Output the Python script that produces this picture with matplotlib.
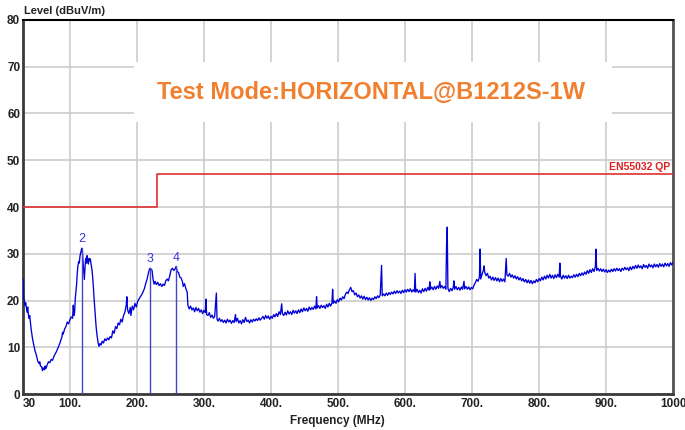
import matplotlib
matplotlib.use("Agg")
import matplotlib.pyplot as plt
from matplotlib.patches import Rectangle

plt.rcParams['font.family'] = ['Liberation Sans', 'DejaVu Sans']

# Scan trace (MHz, dBuV/m), split by band
trace_low = [
    (30, 21.5), (30.5, 24.5), (31, 20.5), (32, 20.0), (33, 19.0), (34, 19.5), (35, 18.5),
    (36, 17.5), (37, 18.6), (38, 17.0), (39, 16.2), (40, 16.8), (42, 14.0), (44, 12.0),
    (46, 10.5), (48, 9.2), (50, 8.3), (52, 7.0), (54, 6.5), (55, 6.9), (56, 6.0), (58, 5.8),
    (59, 5.0), (60, 5.6), (62, 5.2), (63, 6.0), (64, 5.4), (66, 6.2), (68, 6.9), (70, 6.7),
    (72, 7.4), (74, 7.2), (76, 8.0), (78, 8.6), (80, 9.1), (82, 9.8), (84, 10.5), (86, 11.3),
    (88, 12.2), (89, 13.2), (90, 12.8), (92, 13.9), (94, 14.4), (96, 15.4), (98, 15.0),
    (100, 15.9), (102, 16.5), (104, 16.2), (105, 19.0), (106, 16.8), (107, 17.5), (108, 20.5),
    (110, 23.5), (111, 26.0), (112, 27.5), (113, 28.3), (114, 28.0), (115, 29.5), (116, 30.2),
    (117, 30.8), (117.6, 31.2), (118.5, 30.5), (119.5, 28.5), (120.5, 26.5), (121.5, 24.5),
    (122.5, 27.0), (123.5, 29.0), (124.5, 28.0), (125.5, 29.6), (126.5, 28.5), (127.5, 27.8),
    (128.5, 29.0), (129.5, 28.5), (130.5, 28.9), (131.5, 27.8), (133, 26.5), (134.5, 24.0),
    (136, 20.5), (137.5, 17.5), (139, 14.5), (140.5, 12.5), (142, 11.0), (143.5, 10.2),
    (145, 10.8), (146.5, 10.5), (148, 11.3), (150, 10.9), (152, 11.8), (154, 11.4),
    (156, 12.0), (158, 11.6), (160, 12.3), (162, 12.0), (164, 13.5), (166, 13.0), (168, 14.4),
    (170, 14.0), (172, 15.2), (174, 14.8), (176, 16.0), (178, 15.4), (180, 16.8), (182, 17.5),
    (184, 19.0), (185, 20.8), (186, 18.0), (188, 17.2), (190, 18.5), (191, 16.8), (193, 18.8),
    (195, 18.0), (197, 19.4), (199, 18.6), (201, 19.8), (203, 20.3), (205, 20.8), (207, 21.2),
    (209, 21.8), (211, 22.5), (213, 23.6), (215, 24.5), (217, 25.8), (218.5, 26.6),
    (219.5, 26.9), (221, 26.7), (222.5, 26.5), (224, 24.6), (225.5, 23.5), (227, 24.1),
    (229, 23.4), (231, 23.9), (233, 23.2), (235, 23.6), (237, 23.0), (239, 23.5), (241, 23.2),
    (243, 24.2), (245, 24.6), (247, 24.2), (249, 25.3), (251, 26.6), (253, 26.9), (255, 26.4),
    (257, 26.8), (258.5, 27.3), (260, 26.2), (262, 26.0), (264, 25.0), (266, 24.8),
    (268, 24.0), (269, 23.0), (271, 23.6), (273, 22.5), (275, 21.8), (276, 19.0), (278, 18.2),
    (280, 18.8), (282, 18.0), (284, 18.4), (286, 17.6), (288, 18.5), (290, 17.8), (292, 18.3),
    (294, 17.5), (296, 18.0), (298, 17.2),
]

trace_mid = [
    (300, 17.9), (302, 17.4), (303, 20.3), (304, 17.0), (306, 16.8), (308, 17.4), (310, 16.4),
    (312, 16.9), (314, 16.2), (316, 16.6), (318.5, 21.6), (319.5, 16.0), (321, 15.6),
    (323, 16.2), (325, 15.5), (327, 15.9), (329, 15.3), (331, 15.8), (333, 15.2), (335, 16.0),
    (337, 15.4), (339, 15.8), (341, 15.1), (343, 15.7), (345, 15.3), (347, 17.0), (348, 15.5),
    (350, 16.2), (352, 15.2), (354, 15.7), (356, 15.0), (358, 15.9), (360, 15.3), (362, 16.4),
    (364, 15.5), (366, 15.8), (368, 15.2), (370, 15.9), (372, 15.4), (374, 16.0), (376, 15.6),
    (378, 16.1), (380, 15.7), (382, 16.3), (384, 15.8), (386, 16.2), (388, 16.6), (390, 16.0),
    (392, 16.8), (394, 16.2), (396, 16.7), (398, 16.0), (400, 16.6), (402, 16.2), (404, 17.0),
    (406, 16.5), (408, 17.2), (410, 16.6), (412, 17.6), (414, 17.0), (416, 19.3), (417, 17.2),
    (419, 16.8), (421, 17.5), (423, 16.9), (425, 17.8), (427, 17.1), (429, 17.6), (431, 17.0),
    (433, 17.9), (435, 17.3), (437, 17.8), (439, 17.2), (441, 18.0), (443, 17.4), (445, 18.2),
    (447, 17.6), (449, 18.4), (451, 17.8), (453, 18.3), (455, 17.7), (457, 18.6), (459, 18.0),
    (461, 18.5), (463, 18.1), (465, 18.8), (467, 18.2), (468, 20.8), (469, 18.4), (471, 18.9),
    (473, 18.3), (475, 19.0), (477, 18.5), (479, 18.9), (481, 18.3), (483, 19.2), (485, 18.6),
    (487, 19.4), (489, 18.8), (491, 19.5), (492, 22.4), (493, 19.4), (495, 19.9), (497, 19.4),
    (499, 20.2), (501, 19.7), (503, 20.5), (505, 20.1), (507, 20.8), (509, 20.4), (511, 21.3),
    (513, 21.8), (515, 21.5), (517, 22.3), (519, 22.8), (521, 21.9), (523, 22.1), (525, 21.2),
    (527, 21.6), (529, 20.8), (531, 21.2), (533, 20.5), (535, 21.0), (537, 20.3), (539, 20.9),
    (541, 20.2), (543, 20.7), (545, 20.1), (547, 20.6), (549, 20.0), (551, 20.5), (553, 20.2),
    (555, 20.8), (557, 20.4), (559, 21.0), (561, 20.6), (563, 21.2), (565, 27.5), (566, 21.0),
    (568, 21.4), (570, 21.0), (572, 21.6), (574, 21.1), (576, 21.7), (578, 21.3), (580, 21.8),
    (582, 21.4), (584, 22.0), (586, 21.5), (588, 22.1), (590, 21.6), (592, 22.0), (594, 21.5),
    (596, 22.2), (598, 21.7), (600, 22.3), (602, 21.8), (604, 22.4), (606, 21.9), (608, 22.5),
    (610, 21.8), (612, 22.3), (614, 21.9), (615, 25.8), (616, 21.8), (618, 22.4), (620, 21.7),
    (622, 22.2), (624, 21.6), (626, 22.5), (628, 21.9), (630, 22.6), (632, 22.0), (634, 22.8),
    (636, 22.2), (637, 24.0), (638, 22.4), (640, 22.9), (642, 22.3), (644, 23.0), (646, 22.4),
    (648, 23.1), (650, 22.6), (652, 24.1), (653, 22.7), (655, 23.2), (657, 22.6), (659, 23.0),
    (661, 22.4), (662, 32.0), (663, 35.7), (664, 22.6), (666, 21.9), (668, 22.6), (670, 22.1),
    (672, 22.8), (673, 24.2), (674, 22.4), (676, 23.0), (678, 22.3), (680, 22.8), (682, 22.2),
    (684, 22.9), (686, 22.4), (688, 24.1), (689, 22.5), (691, 23.0), (693, 22.4), (695, 22.9),
    (697, 22.3), (699, 22.8),
]

trace_high = [
    (701, 22.5), (703, 23.3), (705, 23.8), (707, 24.5), (709, 24.1), (711, 25.0), (712, 31.0),
    (713, 24.6), (715, 25.6), (717, 26.5), (718, 27.4), (719, 26.0), (721, 25.3), (723, 25.8),
    (725, 24.8), (727, 25.2), (729, 24.4), (731, 25.0), (733, 24.3), (735, 24.9), (737, 24.2),
    (739, 24.8), (741, 24.0), (743, 24.7), (745, 24.1), (747, 24.6), (749, 24.0), (751, 29.0),
    (752, 25.5), (754, 25.2), (756, 25.8), (758, 25.0), (760, 25.5), (762, 24.8), (764, 25.3),
    (766, 24.6), (768, 25.1), (770, 24.4), (772, 24.9), (774, 24.2), (776, 24.7), (778, 24.0),
    (780, 24.5), (782, 23.8), (784, 24.4), (786, 23.7), (788, 24.3), (790, 23.6), (792, 24.2),
    (794, 23.8), (796, 24.5), (798, 24.0), (800, 24.7), (802, 24.2), (804, 25.0), (806, 24.4),
    (808, 25.2), (810, 24.6), (812, 25.4), (814, 24.8), (816, 25.6), (818, 24.8), (820, 25.4),
    (822, 24.7), (824, 25.5), (826, 24.9), (828, 25.6), (830, 25.0), (831, 28.0), (832, 25.2),
    (834, 24.6), (836, 25.4), (838, 24.8), (840, 25.3), (842, 24.7), (844, 25.4), (846, 24.8),
    (848, 25.2), (850, 24.9), (852, 25.5), (854, 25.0), (856, 25.6), (858, 25.1), (860, 25.8),
    (862, 25.3), (864, 25.9), (866, 25.4), (868, 26.1), (870, 25.6), (872, 26.4), (874, 25.8),
    (876, 26.6), (878, 26.0), (880, 26.8), (882, 26.2), (884, 27.2), (885, 31.0), (886, 26.4),
    (888, 26.9), (890, 26.3), (892, 26.8), (894, 26.2), (896, 26.7), (898, 26.1), (900, 26.6),
    (902, 26.0), (904, 26.5), (906, 26.1), (908, 26.7), (910, 26.2), (912, 26.8), (914, 26.3),
    (916, 26.9), (918, 26.4), (920, 26.8), (922, 26.2), (924, 26.9), (926, 26.5), (928, 27.1),
    (930, 26.6), (932, 27.0), (934, 26.4), (936, 27.2), (938, 26.6), (940, 27.3), (942, 26.8),
    (944, 27.5), (946, 26.9), (948, 27.6), (950, 27.0), (952, 27.4), (954, 26.8), (956, 27.7),
    (958, 27.1), (960, 27.5), (962, 26.9), (964, 27.8), (966, 27.2), (968, 27.6), (970, 27.0),
    (972, 27.8), (974, 27.2), (976, 27.7), (978, 27.1), (980, 27.9), (982, 27.3), (984, 27.8),
    (986, 27.2), (988, 28.0), (990, 27.4), (992, 27.9), (994, 27.3), (996, 28.1), (998, 27.6),
    (1000, 28.2),
]

# EN55032 QP limit steps
limit_freq = [30, 230, 230, 1000]
limit_level = [40, 40, 47, 47]

# Marked peaks
marker_ids = ["2", "3", "4"]
marker_freq = [117.6, 219.5, 258.5]
marker_level = [31.2, 26.9, 27.3]

x_ticks = [30, 100, 200, 300, 400, 500, 600, 700, 800, 900, 1000]
x_tick_labels = ["30", "100.", "200.", "300.", "400.", "500.", "600.", "700.", "800.", "900.", "1000"]
y_ticks = [0, 10, 20, 30, 40, 50, 60, 70, 80]

trace = trace_low + trace_mid + trace_high
freq = [p[0] for p in trace]
level = [p[1] for p in trace]

fig = plt.figure(figsize=(6.85, 4.3), dpi=100)
ax = fig.add_axes([0.0336, 0.0837, 0.949, 0.8698])

ax.set_xlim(30, 1000)
ax.set_ylim(0, 80)
ax.set_xticks(x_ticks)
ax.set_xticklabels(x_tick_labels)
ax.set_yticks(y_ticks)
ax.tick_params(length=0, labelsize=8.5, colors="#222222", pad=3)
for lab in ax.get_xticklabels() + ax.get_yticklabels():
    lab.set_fontweight("bold")
ax.get_xticklabels()[0].set_horizontalalignment("left")
ax.tick_params(axis="y", pad=2)

ax.grid(True, color="#cccccc", linewidth=1.2)
ax.set_axisbelow(True)

for side in ("left", "bottom"):
    ax.spines[side].set_color("#3a3a3a")
    ax.spines[side].set_linewidth(2)
ax.spines["right"].set_color("#555555")
ax.spines["right"].set_linewidth(2)
ax.spines["top"].set_color("black")
ax.spines["top"].set_linewidth(1.5)

# white panel behind the mode caption
ax.add_patch(Rectangle((0.171, 0.727), 0.735, 0.16, transform=ax.transAxes,
                       facecolor="white", edgecolor="none", zorder=1.5))

ax.plot(limit_freq, limit_level, color="#e03030", linewidth=1.2, zorder=3)
ax.text(0.995, 47.4, "EN55032 QP", transform=ax.get_yaxis_transform(),
        ha="right", va="bottom", color="#e02020", fontsize=7.5, fontweight="bold")

ax.plot(freq, level, color="#0000d8", linewidth=0.95, zorder=4)

for mid, mf, ml in zip(marker_ids, marker_freq, marker_level):
    ax.vlines(mf, 0, ml, color="#4545c8", linewidth=1, zorder=5)
    ax.text(mf, ml + 0.6, mid, ha="center", va="bottom", color="#3535e0", fontsize=9)

ax.text(0.535, 0.805, "Test Mode:HORIZONTAL@B1212S-1W", transform=ax.transAxes,
        ha="center", va="center", color="#f08030", fontsize=17, fontweight="bold", zorder=6)

fig.text(0.035, 0.962, "Level (dBuV/m)", ha="left", va="bottom",
         fontsize=8, fontweight="bold", color="#222222")
fig.text(0.493, 0.008, "Frequency (MHz)", ha="center", va="bottom",
         fontsize=8.5, fontweight="bold", color="#222222")

fig.savefig("out.png", dpi=100)
